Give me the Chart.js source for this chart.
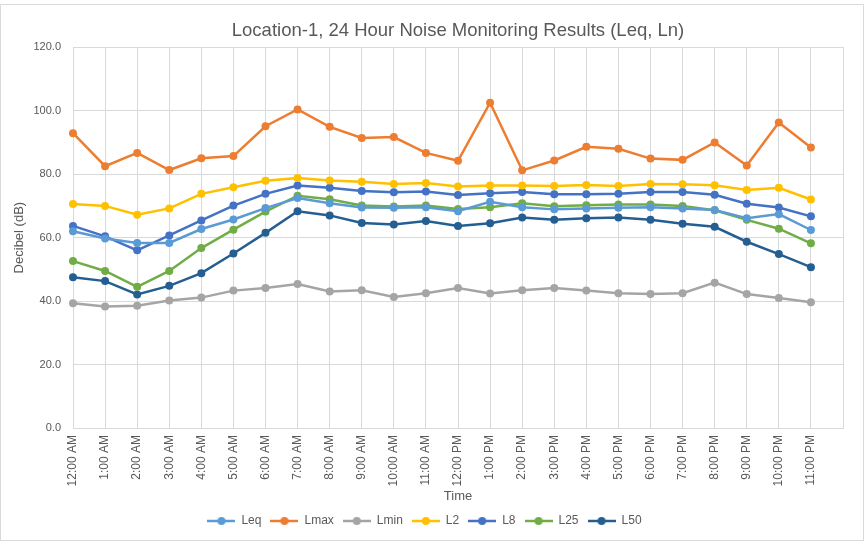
<!DOCTYPE html>
<html>
<head>
<meta charset="utf-8">
<title>Location-1 Noise Monitoring</title>
<script src="https://cdn.jsdelivr.net/npm/chart.js@4.4.1/dist/chart.umd.min.js"></script>
<style>
	html, body { margin: 0; padding: 0; background: #fff; }
	#wrap { width: 866px; height: 546px; position: relative; }
</style>
</head>
<body>
<div id="wrap"><canvas id="noiseChart" width="866" height="546"></canvas></div>
<script>
//----------data----------
var hours = ["12:00 AM","1:00 AM","2:00 AM","3:00 AM","4:00 AM","5:00 AM","6:00 AM","7:00 AM",
	"8:00 AM","9:00 AM","10:00 AM","11:00 AM","12:00 PM","1:00 PM","2:00 PM","3:00 PM",
	"4:00 PM","5:00 PM","6:00 PM","7:00 PM","8:00 PM","9:00 PM","10:00 PM","11:00 PM"];

var leq  = [62.0,59.7,58.3,58.3,62.7,65.7,69.3,72.5,70.8,69.5,69.4,69.6,68.3,71.3,69.6,68.9,69.2,69.4,69.6,69.2,68.7,66.1,67.4,62.4];
var lmax = [92.9,82.5,86.7,81.3,85.0,85.7,95.1,100.4,94.9,91.4,91.7,86.7,84.2,102.5,81.2,84.3,88.6,88.0,84.9,84.5,90.0,82.7,96.3,88.4];
var lmin = [39.3,38.3,38.5,40.2,41.1,43.3,44.1,45.4,43.0,43.4,41.3,42.5,44.1,42.4,43.4,44.1,43.3,42.5,42.2,42.5,45.8,42.2,41.0,39.6];
var l2   = [70.6,70.0,67.2,69.2,73.8,75.9,77.9,78.8,78.0,77.6,76.9,77.2,76.1,76.4,76.4,76.3,76.6,76.3,76.9,76.8,76.5,75.0,75.7,72.0];
var l8   = [63.7,60.4,56.0,60.7,65.4,70.1,73.8,76.4,75.7,74.7,74.3,74.5,73.4,74.0,74.4,73.7,73.7,73.8,74.4,74.4,73.5,70.7,69.5,66.7];
var l25  = [52.6,49.5,44.5,49.5,56.7,62.5,68.2,73.2,72.1,70.1,69.8,70.1,69.0,69.6,70.8,69.9,70.2,70.4,70.4,70.0,68.6,65.6,62.8,58.2];
var l50  = [47.5,46.3,42.1,44.8,48.8,55.0,61.5,68.3,67.0,64.6,64.1,65.2,63.7,64.5,66.3,65.6,66.1,66.3,65.6,64.4,63.4,58.7,54.8,50.7];

var seriesNames  = ["Leq","Lmax","Lmin","L2","L8","L25","L50"];
var seriesData   = [leq, lmax, lmin, l2, l8, l25, l50];
var seriesColors = ["#5B9BD5","#ED7D31","#A5A5A5","#FFC000","#4472C4","#70AD47","#255E91"];

var textColor = "#595959";
var gridColor = "#D9D9D9";
var fontFamily = "'Liberation Sans', 'DejaVu Sans', sans-serif";

// legend marker: short line with a dot in the middle
// -----------------------------------
function legendMarker(color){
	var c = document.createElement('canvas');
	c.width = 28; c.height = 10;
	var g = c.getContext('2d');
	g.strokeStyle = color;
	g.lineWidth = 2.5;
	g.beginPath();
	g.moveTo(0, 5); g.lineTo(28, 5);
	g.stroke();
	g.fillStyle = color;
	g.beginPath();
	g.arc(14, 5, 4, 0, Math.PI * 2);
	g.fill();
	return c;
}

// outer chart border
// -----------------------------------
var chartBorder = {
	id: 'chartBorder',
	beforeDraw: function(chart){
		var ctx = chart.ctx;
		ctx.save();
		ctx.fillStyle = '#fff';
		ctx.fillRect(0, 0, chart.width, chart.height);
		ctx.strokeStyle = gridColor;
		ctx.lineWidth = 1;
		ctx.strokeRect(0.5, 4.5, 863, 536);
		ctx.restore();
	}
};

var datasets = [];
for (var i = 0; i < seriesNames.length; i++) {
	datasets.push({
		label: seriesNames[i],
		data: seriesData[i],
		borderColor: seriesColors[i],
		backgroundColor: seriesColors[i],
		borderWidth: 2.5,
		pointRadius: 4,
		pointHoverRadius: 4,
		pointBorderWidth: 0,
		tension: 0,
		fill: false
	});
}

var ctx = document.getElementById("noiseChart").getContext('2d');
var myChart = new Chart(ctx, {
	type: 'line',
	data: {
		// extra blank category keeps the plot open to the right like the original
		labels: hours.concat([""]),
		datasets: datasets
	},
	options: {
		responsive: false,
		animation: false,
		layout: { padding: { top: 6, left: 6, right: 23, bottom: 9 } },
		plugins: {
			title: {
				display: true,
				text: 'Location-1, 24 Hour Noise Monitoring Results (Leq, Ln)',
				color: textColor,
				fullSize: false,
				font: { family: fontFamily, size: 18.5, weight: 'normal' },
				padding: { top: 14, bottom: 5 }
			},
			legend: {
				display: true,
				position: 'bottom',
				labels: {
					color: textColor,
					font: { family: fontFamily, size: 12 },
					usePointStyle: true,
					pointStyleWidth: 28,
					padding: 9,
					generateLabels: function(chart){
						var items = Chart.defaults.plugins.legend.labels.generateLabels(chart);
						items.forEach(function(it){
							it.pointStyle = legendMarker(seriesColors[it.datasetIndex]);
						});
						return items;
					}
				}
			},
			tooltip: { enabled: false }
		},
		scales: {
			x: {
				offset: false,
				grid: { color: gridColor, drawTicks: false },
				border: { color: gridColor },
				ticks: {
					color: textColor,
					font: { family: fontFamily, size: 12 },
					autoSkip: false,
					minRotation: 90,
					maxRotation: 90,
					padding: 7
				},
				title: {
					display: true,
					text: 'Time',
					color: textColor,
					font: { family: fontFamily, size: 13 },
					padding: { top: -5, bottom: 2 }
				}
			},
			y: {
				min: 0,
				max: 120,
				grid: { color: gridColor, drawTicks: false },
				border: { color: gridColor },
				afterFit: function(scale){ scale.width = 67; },
				ticks: {
					stepSize: 20,
					color: textColor,
					font: { family: fontFamily, size: 11 },
					padding: 12,
					callback: function(v){ return Number(v).toFixed(1); }
				},
				title: {
					display: true,
					text: 'Decibel (dB)',
					color: textColor,
					font: { family: fontFamily, size: 13 },
					padding: { top: 6, bottom: 0 }
				}
			}
		}
	},
	plugins: [chartBorder]
});
</script>
</body>
</html>
